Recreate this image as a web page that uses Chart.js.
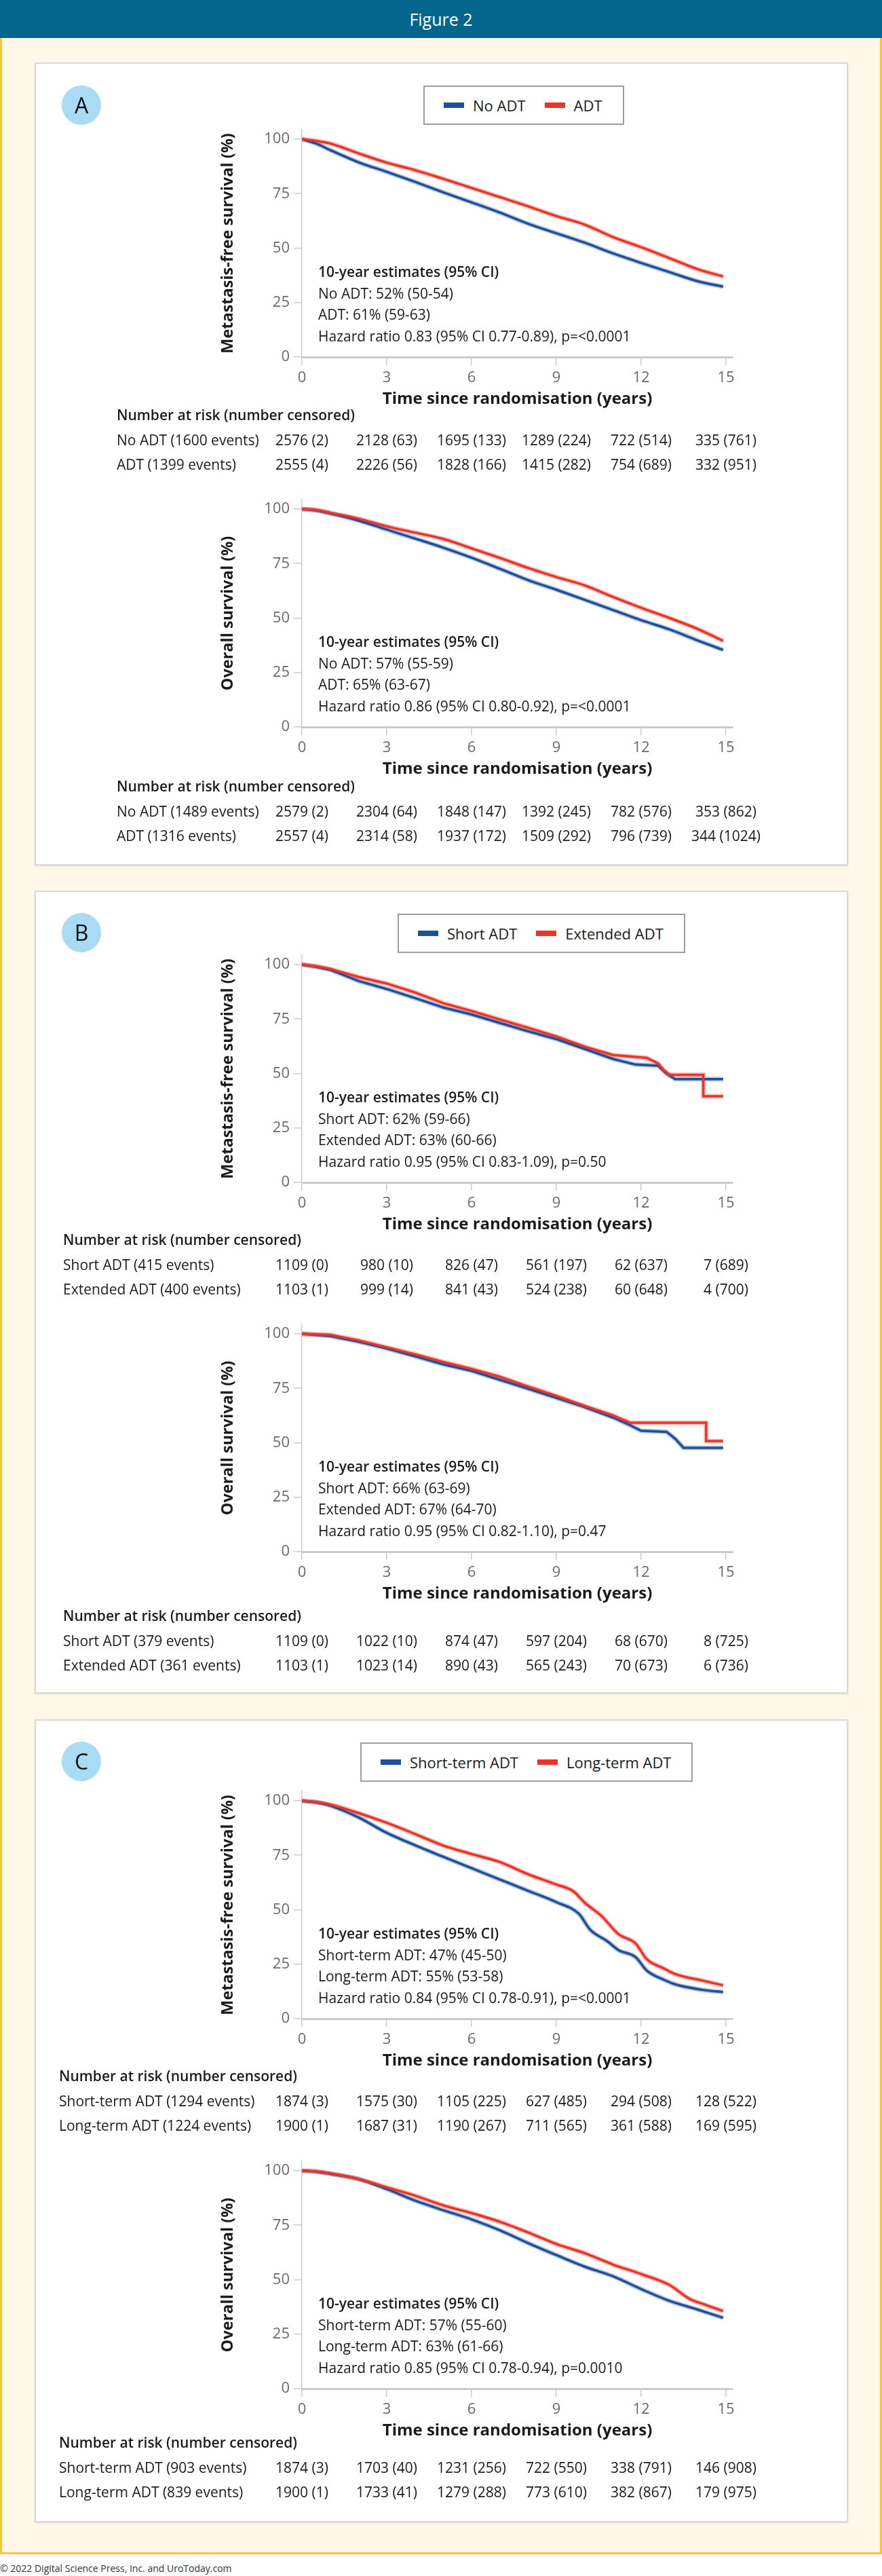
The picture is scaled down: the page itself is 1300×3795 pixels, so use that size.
<!DOCTYPE html>
<html>
<head>
<meta charset="utf-8">
<title>Figure 2</title>
<script src="https://cdn.jsdelivr.net/npm/chart.js@4.4.1/dist/chart.umd.min.js"></script>
<style>
  html, body { margin: 0; padding: 0; background: #fff; }
  body { width: 1300px; height: 3795px; position: relative; overflow: hidden;
         font-family: "Open Sans", "Noto Sans", sans-serif; color: #1b1b1b; }
  #header { position: absolute; left: 0; top: 0; width: 1300px; height: 56px; background: #04668c;
            color: #fff; font-size: 25px; font-weight: 500; text-align: center; line-height: 56px; }
  #frame { position: absolute; left: 0; top: 56px; width: 1294px; height: 3704px; background: #fff8e8;
           border: 3px solid #f7c53e; border-top: none; }
  .panel { position: absolute; left: 51px; width: 1195px; height: 1179px; background: #fff;
           border: 2px solid #d9d9d9; box-shadow: 0 1px 2px rgba(0,0,0,0.12); }
  .badge { position: absolute; left: 91px; width: 58px; height: 58px; border-radius: 50%; background: #a9dcf4;
           font-size: 32px; font-weight: 500; text-align: center; line-height: 58px; color: #111; z-index: 3; }
  .legend { position: absolute; height: 54px; border: 2px solid #9d9d9d; background: #fff; z-index: 3;
            display: flex; align-items: center; padding: 0 30px 0 28px; font-size: 22px; white-space: nowrap; }
  .legend i { display: inline-block; width: 30px; height: 8px; margin-right: 13px; }
  .legend span + i { margin-left: 28px; }
  canvas { position: absolute; left: 0; z-index: 2; }
  #footer { position: absolute; left: 0; top: 3774px; font-size: 14px; color: #333; }
</style>
</head>
<body>
<div id="header">Figure 2</div>
<div id="frame"></div>
<div class="panel" style="top:92px"></div>
<div class="panel" style="top:1312px"></div>
<div class="panel" style="top:2533px"></div>
<div class="badge" style="top:126px">A</div>
<div class="badge" style="top:1345px">B</div>
<div class="badge" style="top:2566px">C</div>
<div class="legend" style="left:624px;top:126px"><i style="background:#1d4f9d"></i><span>No ADT</span><i style="background:#ec3327"></i><span>ADT</span></div>
<div class="legend" style="left:586px;top:1346px"><i style="background:#1d4f9d"></i><span>Short ADT</span><i style="background:#ec3327"></i><span>Extended ADT</span></div>
<div class="legend" style="left:531px;top:2567px"><i style="background:#1d4f9d"></i><span>Short-term ADT</span><i style="background:#ec3327"></i><span>Long-term ADT</span></div>
<div id="footer">© 2022 Digital Science Press, Inc. and UroToday.com</div>

<script>
// ---------------- data ----------------
const yearTicks = [0, 3, 6, 9, 12, 15];
const survivalTicks = [0, 25, 50, 75, 100];

// Panel A : no ADT vs ADT
const timeA = [0, 0.5, 1, 2, 3, 4, 5, 6, 7, 8, 9, 10, 11, 12, 13, 14, 14.9];
const mfsA_noAdt = [100, 98.0, 95.0, 89.4, 85.0, 80.4, 75.6, 71.0, 66.3, 61.2, 56.8, 52.5, 47.6, 43.2, 39.0, 34.8, 32.3];
const mfsA_adt   = [100, 99.2, 98.0, 93.5, 89.2, 85.8, 81.8, 77.6, 73.4, 69.2, 64.7, 60.8, 55.1, 50.4, 45.4, 40.3, 37.0];
const osA_noAdt  = [100, 99.4, 98.0, 94.7, 90.6, 86.5, 82.3, 77.7, 72.6, 67.4, 63.0, 58.4, 53.7, 49.0, 44.8, 39.7, 35.4];
const osA_adt    = [100, 99.6, 98.3, 95.6, 92.1, 89.2, 86.3, 82.0, 77.6, 73.0, 68.8, 65.0, 59.7, 54.7, 50.0, 45.0, 39.5];

// Panel B : short vs extended ADT
const mfsB_shortTime = [0, 0.5, 1, 2, 3, 4, 5, 6, 7, 8, 9, 10, 11, 11.8, 12.6, 12.9, 13.2, 14.9];
const mfsB_short     = [100, 99.0, 97.6, 92.5, 88.8, 84.6, 80.3, 77.1, 73.2, 69.4, 65.8, 61.3, 56.7, 54.1, 53.6, 50.0, 47.4, 47.4];
const mfsB_extTime   = [0, 0.5, 1, 2, 3, 4, 5, 6, 7, 8, 9, 10, 11, 12.2, 12.6, 12.8, 13.0, 14.2, 14.2, 14.9];
const mfsB_ext       = [100, 99.2, 98.0, 94.3, 91.3, 87.2, 82.3, 78.7, 74.8, 71.0, 67.0, 62.3, 58.5, 57.2, 54.6, 51.5, 49.4, 49.4, 39.6, 39.6];
const osB_shortTime  = [0, 1, 2, 3, 4, 5, 6, 7, 8, 9, 10, 11, 11.6, 12.0, 12.9, 13.2, 13.5, 14.9];
const osB_short      = [100, 99.0, 96.4, 93.3, 89.7, 86.0, 83.0, 78.9, 74.8, 70.6, 66.4, 61.6, 58.1, 55.5, 55.0, 51.9, 47.7, 47.7];
const osB_extTime    = [0, 1, 2, 3, 4, 5, 6, 7, 8, 9, 10, 11, 11.6, 14.3, 14.3, 14.9];
const osB_ext        = [100, 99.5, 97.0, 93.8, 90.6, 87.1, 83.9, 80.3, 75.8, 71.5, 66.9, 62.6, 59.2, 59.2, 50.8, 50.8];

// Panel C : short-term vs long-term ADT
const mfsC_shortTime = [0, 0.5, 1, 2, 3, 4, 5, 6, 7, 8, 9, 9.8, 10.2, 10.8, 11.2, 11.8, 12.2, 12.8, 13.2, 14.2, 14.9];
const mfsC_short     = [100, 99.3, 97.8, 92.4, 85.3, 79.6, 74.3, 69.1, 63.9, 58.7, 53.5, 48.1, 40.8, 35.6, 31.5, 28.3, 22.1, 17.9, 15.8, 13.2, 12.2];
const mfsC_longTime  = [0, 0.5, 1, 2, 3, 4, 5, 6, 7, 8, 9, 9.6, 10.0, 10.6, 11.2, 11.8, 12.2, 12.8, 13.2, 14.2, 14.9];
const mfsC_long      = [100, 99.5, 98.3, 94.4, 89.9, 84.8, 79.5, 75.6, 71.9, 66.3, 61.6, 58.5, 53.3, 47.1, 38.8, 34.6, 27.3, 23.1, 20.5, 17.4, 15.3];
const osC_shortTime  = [0, 0.5, 1, 2, 3, 4, 5, 6, 7, 8, 9, 10, 11, 12, 13, 14, 14.9];
const osC_short      = [100, 99.6, 98.6, 96.2, 91.6, 86.3, 81.9, 77.7, 72.7, 66.8, 61.3, 56.0, 51.6, 45.7, 40.3, 36.3, 32.5];
const osC_longTime   = [0, 0.5, 1, 2, 3, 4, 5, 6, 7, 8, 9, 10, 11, 12, 13, 13.7, 14.2, 14.9];
const osC_long       = [100, 99.7, 98.8, 96.2, 92.4, 88.6, 84.1, 80.6, 76.6, 71.7, 66.4, 62.2, 57.0, 52.6, 47.6, 41.3, 38.8, 35.6];

// number at risk (number censored) at 0, 3, 6, 9, 12, 15 years
const riskA_mfs = [[2576, 2128, 1695, 1289, 722, 335], [2555, 2226, 1828, 1415, 754, 332]];
const censA_mfs = [[2, 63, 133, 224, 514, 761], [4, 56, 166, 282, 689, 951]];
const riskA_os  = [[2579, 2304, 1848, 1392, 782, 353], [2557, 2314, 1937, 1509, 796, 344]];
const censA_os  = [[2, 64, 147, 245, 576, 862], [4, 58, 172, 292, 739, 1024]];
const riskB_mfs = [[1109, 980, 826, 561, 62, 7], [1103, 999, 841, 524, 60, 4]];
const censB_mfs = [[0, 10, 47, 197, 637, 689], [1, 14, 43, 238, 648, 700]];
const riskB_os  = [[1109, 1022, 874, 597, 68, 8], [1103, 1023, 890, 565, 70, 6]];
const censB_os  = [[0, 10, 47, 204, 670, 725], [1, 14, 43, 243, 673, 736]];
const riskC_mfs = [[1874, 1575, 1105, 627, 294, 128], [1900, 1687, 1190, 711, 361, 169]];
const censC_mfs = [[3, 30, 225, 485, 508, 522], [1, 31, 267, 565, 588, 595]];
const riskC_os  = [[1874, 1703, 1231, 722, 338, 146], [1900, 1733, 1279, 773, 382, 179]];
const censC_os  = [[3, 40, 256, 550, 791, 908], [1, 41, 288, 610, 867, 975]];

const groupsA = ['No ADT', 'ADT'];
const groupsB = ['Short ADT', 'Extended ADT'];
const groupsC = ['Short-term ADT', 'Long-term ADT'];
const eventsA_mfs = [1600, 1399], eventsA_os = [1489, 1316];
const eventsB_mfs = [415, 400],   eventsB_os = [379, 361];
const eventsC_mfs = [1294, 1224], eventsC_os = [903, 839];

// 10-year estimates (95% CI) and hazard ratios
const estA_mfs = ['52% (50-54)', '61% (59-63)'], hrA_mfs = 'Hazard ratio 0.83 (95% CI 0.77-0.89), p=<0.0001';
const estA_os  = ['57% (55-59)', '65% (63-67)'], hrA_os  = 'Hazard ratio 0.86 (95% CI 0.80-0.92), p=<0.0001';
const estB_mfs = ['62% (59-66)', '63% (60-66)'], hrB_mfs = 'Hazard ratio 0.95 (95% CI 0.83-1.09), p=0.50';
const estB_os  = ['66% (63-69)', '67% (64-70)'], hrB_os  = 'Hazard ratio 0.95 (95% CI 0.82-1.10), p=0.47';
const estC_mfs = ['47% (45-50)', '55% (53-58)'], hrC_mfs = 'Hazard ratio 0.84 (95% CI 0.78-0.91), p=<0.0001';
const estC_os  = ['57% (55-60)', '63% (61-66)'], hrC_os  = 'Hazard ratio 0.85 (95% CI 0.78-0.94), p=0.0010';

// ---------------- drawing ----------------
const BLUE = '#1d4f9d', RED = '#ec3327';
const BLUE_HALO = 'rgba(29,79,157,0.30)', RED_HALO = 'rgba(236,51,39,0.30)';
const AXIS = '#cbcbcb', TICK_TXT = '#6a6a6a', INK = '#1b1b1b';
const FONT = '"Open Sans", "Noto Sans", sans-serif';
const MFS_TITLE = 'Metastasis-free survival (%)', OS_TITLE = 'Overall survival (%)';

const kmInfo = {};

// estimates block + number-at-risk table, placed with the chart's own x scale
const kmText = {
  id: 'kmText',
  afterDraw(chart) {
    const info = kmInfo[chart.canvas.id];
    const {ctx, chartArea} = chart;
    const xs = chart.scales.x;
    const y0 = chart.scales.y.getPixelForValue(0);
    ctx.save();
    ctx.fillStyle = INK;
    ctx.textBaseline = 'middle';
    ctx.textAlign = 'left';

    info.notes.forEach((t, i) => {
      ctx.font = (i === 0 ? '600 ' : '400 ') + '21px ' + FONT;
      ctx.fillText(t, chartArea.left + 24, y0 - 124 + i * 31.7);
    });

    const hy = y0 + info.headOff;
    ctx.font = '600 21px ' + FONT;
    ctx.fillText('Number at risk (number censored)', info.labelX, hy);
    ctx.font = '400 21px ' + FONT;
    info.groups.forEach((g, i) => {
      const ry = hy + 37 + i * 36.5;
      ctx.textAlign = 'left';
      ctx.fillText(`${g} (${info.events[i]} events)`, info.labelX, ry);
      ctx.textAlign = 'center';
      yearTicks.forEach((yr, j) => {
        ctx.fillText(`${info.risk[i][j]} (${info.cens[i][j]})`, xs.getPixelForValue(yr), ry);
      });
    });
    ctx.restore();
  }
};

function makeChart(id, y0, yTitle, series, info, smooth) {
  const canvas = document.createElement('canvas');
  canvas.id = id;
  canvas.width = 1300;
  canvas.height = 560;
  canvas.style.top = (y0 - 380) + 'px';
  document.body.appendChild(canvas);
  kmInfo[id] = info;

  const axisGrid = { display: true, drawOnChartArea: false, drawTicks: true, tickLength: 12, color: AXIS, lineWidth: 1.5 };
  const tickFont = { family: FONT, size: 22 };

  // every curve: a solid core line over a wider pale line (the censor-tick fuzz)
  const datasets = [];
  series.forEach(s => {
    const pts = s.time.map((t, i) => ({ x: t, y: s.surv[i] }));
    const base = { label: s.name, data: pts, pointRadius: 0, fill: false, tension: 0,
                   cubicInterpolationMode: smooth ? 'monotone' : 'default' };
    datasets.push(Object.assign({}, base, { borderColor: s.color, borderWidth: 3.5, order: s.order }));
    datasets.push(Object.assign({}, base, { borderColor: s.halo, borderWidth: 7, order: s.order + 2 }));
  });

  new Chart(canvas, {
    type: 'line',
    data: { datasets },
    options: {
      responsive: false,
      animation: false,
      devicePixelRatio: 1,
      layout: { padding: { left: 300, right: 220, top: 45, bottom: 100 } },
      plugins: { legend: { display: false }, tooltip: { enabled: false } },
      scales: {
        x: {
          type: 'linear', min: 0, max: 15.24,
          afterBuildTicks: s => { s.ticks = yearTicks.map(v => ({ value: v })); },
          afterFit: s => { s.height = 80; },
          grid: axisGrid,
          border: { display: true, color: AXIS, width: 3 },
          ticks: { color: TICK_TXT, font: tickFont, padding: 6, maxRotation: 0, autoSkip: false },
          title: { display: true, text: 'Time since randomisation (years)', color: INK,
                   font: { family: FONT, size: 24, weight: 'bold' }, padding: { top: 4, bottom: 3 } }
        },
        y: {
          type: 'linear', min: 0, max: 104.36,
          afterBuildTicks: s => { s.ticks = survivalTicks.map(v => ({ value: v })); },
          afterFit: s => { s.width = 145; },
          grid: axisGrid,
          border: { display: true, color: AXIS, width: 1.5 },
          ticks: { color: TICK_TXT, font: tickFont, padding: 6 },
          title: { display: true, text: yTitle, color: INK,
                   font: { family: FONT, size: 23.5, weight: 'bold' }, padding: { top: 22, bottom: 0 } }
        }
      }
    },
    plugins: [kmText]
  });
}

function pair(groups, blueT, blueS, redT, redS) {
  // red has the lower order so it is painted on top
  return [
    { name: groups[1], time: redT, surv: redS, color: RED, halo: RED_HALO, order: 0 },
    { name: groups[0], time: blueT, surv: blueS, color: BLUE, halo: BLUE_HALO, order: 1 }
  ];
}

function notes(groups, est, hr) {
  return ['10-year estimates (95% CI)', `${groups[0]}: ${est[0]}`, `${groups[1]}: ${est[1]}`, hr];
}

makeChart('a1', 526, MFS_TITLE, pair(groupsA, timeA, mfsA_noAdt, timeA, mfsA_adt),
  { notes: notes(groupsA, estA_mfs, hrA_mfs), groups: groupsA, events: eventsA_mfs, risk: riskA_mfs, cens: censA_mfs, labelX: 172, headOff: 87 }, true);
makeChart('a2', 1071, OS_TITLE, pair(groupsA, timeA, osA_noAdt, timeA, osA_adt),
  { notes: notes(groupsA, estA_os, hrA_os), groups: groupsA, events: eventsA_os, risk: riskA_os, cens: censA_os, labelX: 172, headOff: 89 }, true);
makeChart('b1', 1742, MFS_TITLE, pair(groupsB, mfsB_shortTime, mfsB_short, mfsB_extTime, mfsB_ext),
  { notes: notes(groupsB, estB_mfs, hrB_mfs), groups: groupsB, events: eventsB_mfs, risk: riskB_mfs, cens: censB_mfs, labelX: 93, headOff: 86 }, false);
makeChart('b2', 2286, OS_TITLE, pair(groupsB, osB_shortTime, osB_short, osB_extTime, osB_ext),
  { notes: notes(groupsB, estB_os, hrB_os), groups: groupsB, events: eventsB_os, risk: riskB_os, cens: censB_os, labelX: 93, headOff: 96 }, false);
makeChart('c1', 2974, MFS_TITLE, pair(groupsC, mfsC_shortTime, mfsC_short, mfsC_longTime, mfsC_long),
  { notes: notes(groupsC, estC_mfs, hrC_mfs), groups: groupsC, events: eventsC_mfs, risk: riskC_mfs, cens: censC_mfs, labelX: 87, headOff: 86 }, true);
makeChart('c2', 3519, OS_TITLE, pair(groupsC, osC_shortTime, osC_short, osC_longTime, osC_long),
  { notes: notes(groupsC, estC_os, hrC_os), groups: groupsC, events: eventsC_os, risk: riskC_os, cens: censC_os, labelX: 87, headOff: 81 }, true);
</script>
</body>
</html>
